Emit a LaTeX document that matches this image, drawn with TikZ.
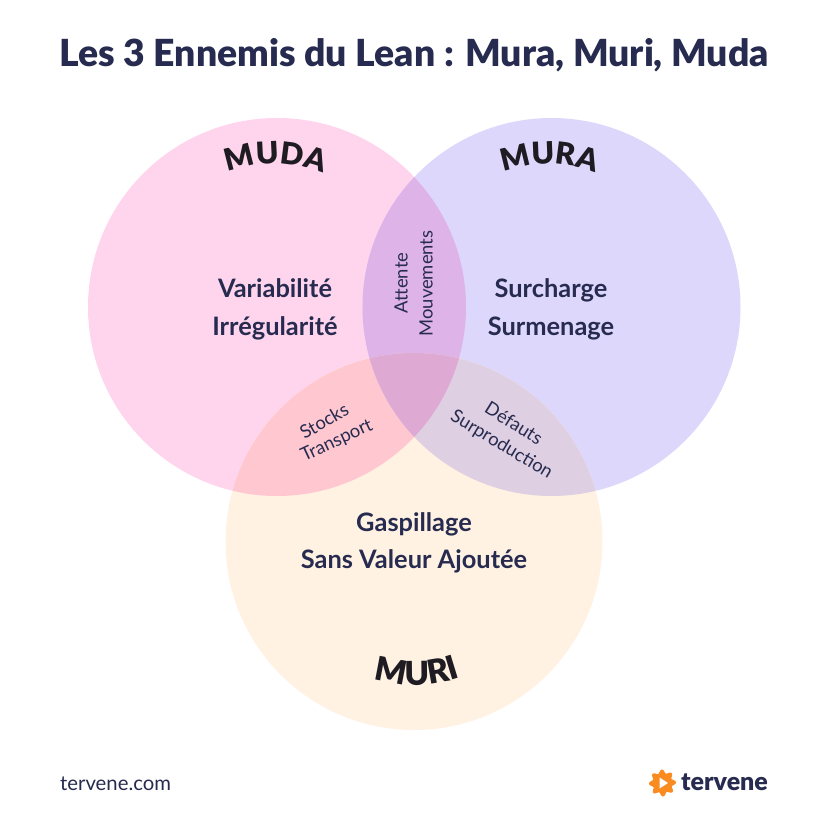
\documentclass[tikz,border=0pt]{standalone}
\usepackage{fontspec}
\setmainfont{Lato}
\newfontfamily\heavy{Lato Black}
\usetikzlibrary{decorations.text}
\definecolor{ink}{HTML}{262B4F}
\definecolor{dark}{HTML}{1E1B22}
\definecolor{cpink}{HTML}{FFD5EE}
\definecolor{clav}{HTML}{DED7FC}
\definecolor{ccream}{HTML}{FFF2E3}
\definecolor{cpl}{HTML}{DEB3E7}
\definecolor{cpc}{HTML}{FFC8D1}
\definecolor{clc}{HTML}{DFCFE2}
\definecolor{call}{HTML}{DEAAD3}
\definecolor{corange}{HTML}{F98B20}
\tikzset{
  main/.style={text=ink,font=\fontsize{25.4}{28}\selectfont\bfseries,inner sep=0pt,anchor=base},
  small/.style={text=ink,font=\fontsize{18.4}{20}\selectfont,inner sep=0pt,anchor=center},
  curved/.style={decorate,decoration={text along path,text align=center,
     text={|\fontsize{30.5}{34}\selectfont\heavy\color{dark}|#1}}},
  curvedbig/.style={decorate,decoration={text along path,text align=center,
     text={|\fontsize{33}{36}\selectfont\heavy\color{dark}|#1}}}
}
\begin{document}
\begin{tikzpicture}[x=1pt,y=-1pt]
\useasboundingbox (0,0) rectangle (828,827);
\fill[white] (0,0) rectangle (828,827);
\def\pinkc{(277,307) circle[radius=189]}
\def\lavc{(551.5,307) circle[radius=189]}
\def\creamc{(414,541.5) circle[radius=188.5]}
\fill[cpink] \pinkc;
\fill[clav] \lavc;
\fill[ccream] \creamc;
\begin{scope}\clip \pinkc; \fill[cpl] \lavc; \fill[cpc] \creamc; \end{scope}
\begin{scope}\clip \lavc; \fill[clc] \creamc; \end{scope}
\begin{scope}\clip \pinkc; \clip \lavc; \fill[call] \creamc; \end{scope}

\node[text=ink,font=\fontsize{37.3}{40}\selectfont\heavy,inner sep=0pt] (title) at (414,55) {Les 3 Ennemis du Lean : Mura, Muri, Muda};

\path[curved=MUDA] (220,176) .. controls (255,160) and (295,160) .. (331,177);
\path[curved=MURA] (494,176) .. controls (529,160) and (569,160) .. (605,177);
\path[curvedbig=MURI] (369,677) .. controls (396,688) and (436,688) .. (465,676);

\node[main] (a1) at (275,297) {Variabilité};
\node[main] (a2) at (275,335) {Irrégularité};
\node[main] (b1) at (551,297) {Surcharge};
\node[main] (b2) at (551,335) {Surmenage};
\node[main] (c1) at (414,531) {Gaspillage};
\node[main] (c2) at (414,568) {Sans Valeur Ajoutée};

\node[small,rotate=90] (d1) at (401,283) {Attente};
\node[small,rotate=90] (d2) at (426,283.5) {Mouvements};
\node[small,rotate=30] (e1) at (324,421) {Stocks};
\node[small,rotate=25] (e2) at (337,441) {Transport};
\node[small,rotate=-32] (f1) at (514,423) {Défauts};
\node[small,rotate=-31] (f2) at (501.5,445) {Surproduction};

\node[text=ink,font=\fontsize{20.3}{22}\selectfont,inner sep=0pt,anchor=west] (site) at (60,783.5) {tervene.com};

\fill[corange] plot[domain=0:360,samples=121,smooth] ({662.5+(11.7+1.8*cos(8*\x+22))*cos(\x)},{783+(11.7+1.8*cos(8*\x+22))*sin(\x)});
\fill[white] (659.5,777.5) -- (668,783) -- (659.5,788.5) -- cycle;
\node[text=ink,font=\fontsize{25}{28}\selectfont\heavy,inner sep=0pt,anchor=west] (brand) at (681,782) {tervene};
\end{tikzpicture}
\end{document}
